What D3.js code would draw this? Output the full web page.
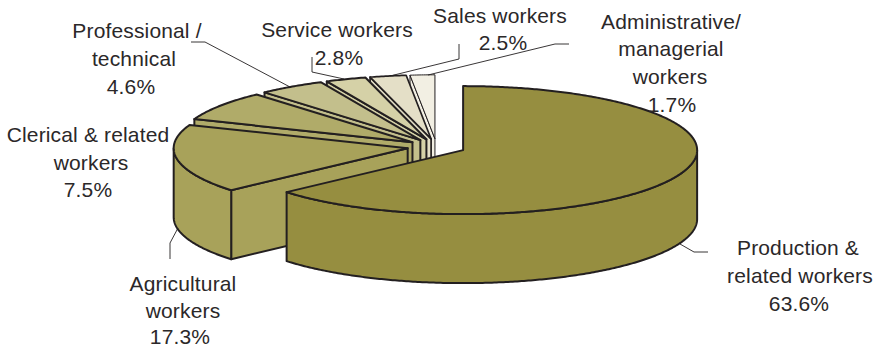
<!DOCTYPE html>
<html>
<head>
<meta charset="utf-8">
<script src="https://cdn.jsdelivr.net/npm/d3@7/dist/d3.min.js"></script>
<style>
  html, body { margin: 0; padding: 0; background: #fff; }
  svg { display: block; }
  text { font-family: "Liberation Sans", Arial, sans-serif; font-size: 21px; fill: #2b2829; text-anchor: middle; letter-spacing: 0.15px; }
</style>
</head>
<body>
<svg id="chart" width="875" height="348"></svg>
<script>
// Employment shares by occupation
const categories = [
  "Production & related workers",
  "Agricultural workers",
  "Clerical & related workers",
  "Professional / technical",
  "Service workers",
  "Sales workers",
  "Administrative/ managerial workers"
];
const shares = [63.6, 17.3, 7.5, 4.6, 2.8, 2.5, 1.7];
const labelLines = [
  ["Production &", "related workers"],
  ["Agricultural", "workers"],
  ["Clerical & related", "workers"],
  ["Professional /", "technical"],
  ["Service workers"],
  ["Sales workers"],
  ["Administrative/", "managerial", "workers"]
];

// Slice appearance
const fills = ["#968e40", "#a8a25a", "#b0ab69", "#c3bf8c", "#d5d1a7", "#e4dfc7", "#f2efe3"];
const strokeWidths = [2, 2, 2, 2, 2, 1.7, 1];

// Label placement: centre x and baseline of each line
const labelPos = [
  { x: [798, 800, 799], y: [255, 283, 311] },
  { x: [183, 183, 180], y: [291, 318, 344] },
  { x: [88, 91, 88], y: [142, 170, 197] },
  { x: [137, 134, 131], y: [38, 66, 94] },
  { x: [337, 339], y: [37, 65] },
  { x: [500, 503], y: [23, 50] },
  { x: [671, 671, 670, 672], y: [29, 56, 84, 112] }
];
const leaders = [
  [[708, 252], [694, 252], [680, 244]],
  [[170, 259], [170, 243], [178, 228]],
  [],
  [[191, 42], [205, 42], [290, 87]],
  [[312, 57], [312, 72], [344, 79]],
  [[459, 44], [459, 59], [390, 76]],
  [[569, 44], [555, 44], [428, 75]]
];

// Oblique projection of the pie
const centerX = 436.5, centerY = 146.8, radiusX = 234, radiusY = 64;
const depth = 69, explode = 0.125;

const sx = d3.scaleLinear().domain([-1, 1]).range([centerX - radiusX, centerX + radiusX]);
const sy = d3.scaleLinear().domain([-1, 1]).range([centerY + radiusY, centerY - radiusY]);

const slices = d3.pie().value(d => d).sort(null)(shares).map((s, i) => {
  const mid = (s.startAngle + s.endAngle) / 2;
  return { ...s, i, ox: explode * Math.sin(mid), oy: explode * Math.cos(mid) };
});

const rim = (s, a, drop = 0) => [sx(s.ox + Math.sin(a)), sy(s.oy + Math.cos(a)) + drop];
const apex = (s, drop = 0) => [sx(s.ox), sy(s.oy) + drop];
const arcAngles = (a0, a1) => {
  const n = Math.max(2, Math.ceil((a1 - a0) / 0.01));
  return d3.range(n + 1).map(k => a0 + (a1 - a0) * k / n);
};
const path = d3.line();

const svg = d3.select("#chart");
const pieG = svg.append("g")
  .attr("stroke", "#231f20")
  .attr("stroke-linejoin", "round");

// Paint from the rear slices forward so nearer slices overlap the ones behind
slices.slice().reverse().forEach(s => {
  const g = pieG.append("g")
    .attr("fill", fills[s.i])
    .attr("stroke-width", strokeWidths[s.i]);

  // Cut face on the leading edge, only when it turns towards the viewer
  if (Math.sin(s.startAngle) < -1e-6) {
    g.append("path").attr("d", path([
      apex(s), rim(s, s.startAngle), rim(s, s.startAngle, depth), apex(s, depth)
    ]) + "Z");
  }

  // Outer wall for the part of the rim on the near half
  const w0 = Math.max(s.startAngle, Math.PI / 2);
  const w1 = Math.min(s.endAngle, 3 * Math.PI / 2);
  if (w1 > w0) {
    const top = arcAngles(w0, w1).map(a => rim(s, a));
    const bottom = arcAngles(w0, w1).reverse().map(a => rim(s, a, depth));
    g.append("path").attr("d", path(top.concat(bottom)) + "Z");
  }

  // Top surface
  g.append("path").attr("d", path(
    [apex(s)].concat(arcAngles(s.startAngle, s.endAngle).map(a => rim(s, a)))
  ) + "Z");
});

// Leader lines
svg.append("g")
  .attr("fill", "none")
  .attr("stroke", "#231f20")
  .attr("stroke-width", 0.9)
  .selectAll("path")
  .data(leaders.filter(l => l.length))
  .join("path")
  .attr("d", path);

// Category labels with their percentages
const labels = svg.append("g").selectAll("text")
  .data(slices)
  .join("text")
  .attr("aria-label", d => categories[d.i]);

labels.selectAll("tspan")
  .data(d => labelLines[d.i].concat(d.data.toFixed(1) + "%").map((t, k) => ({
    t, x: labelPos[d.i].x[k], y: labelPos[d.i].y[k]
  })))
  .join("tspan")
  .attr("x", d => d.x)
  .attr("y", d => d.y)
  .text(d => d.t);
</script>
</body>
</html>
